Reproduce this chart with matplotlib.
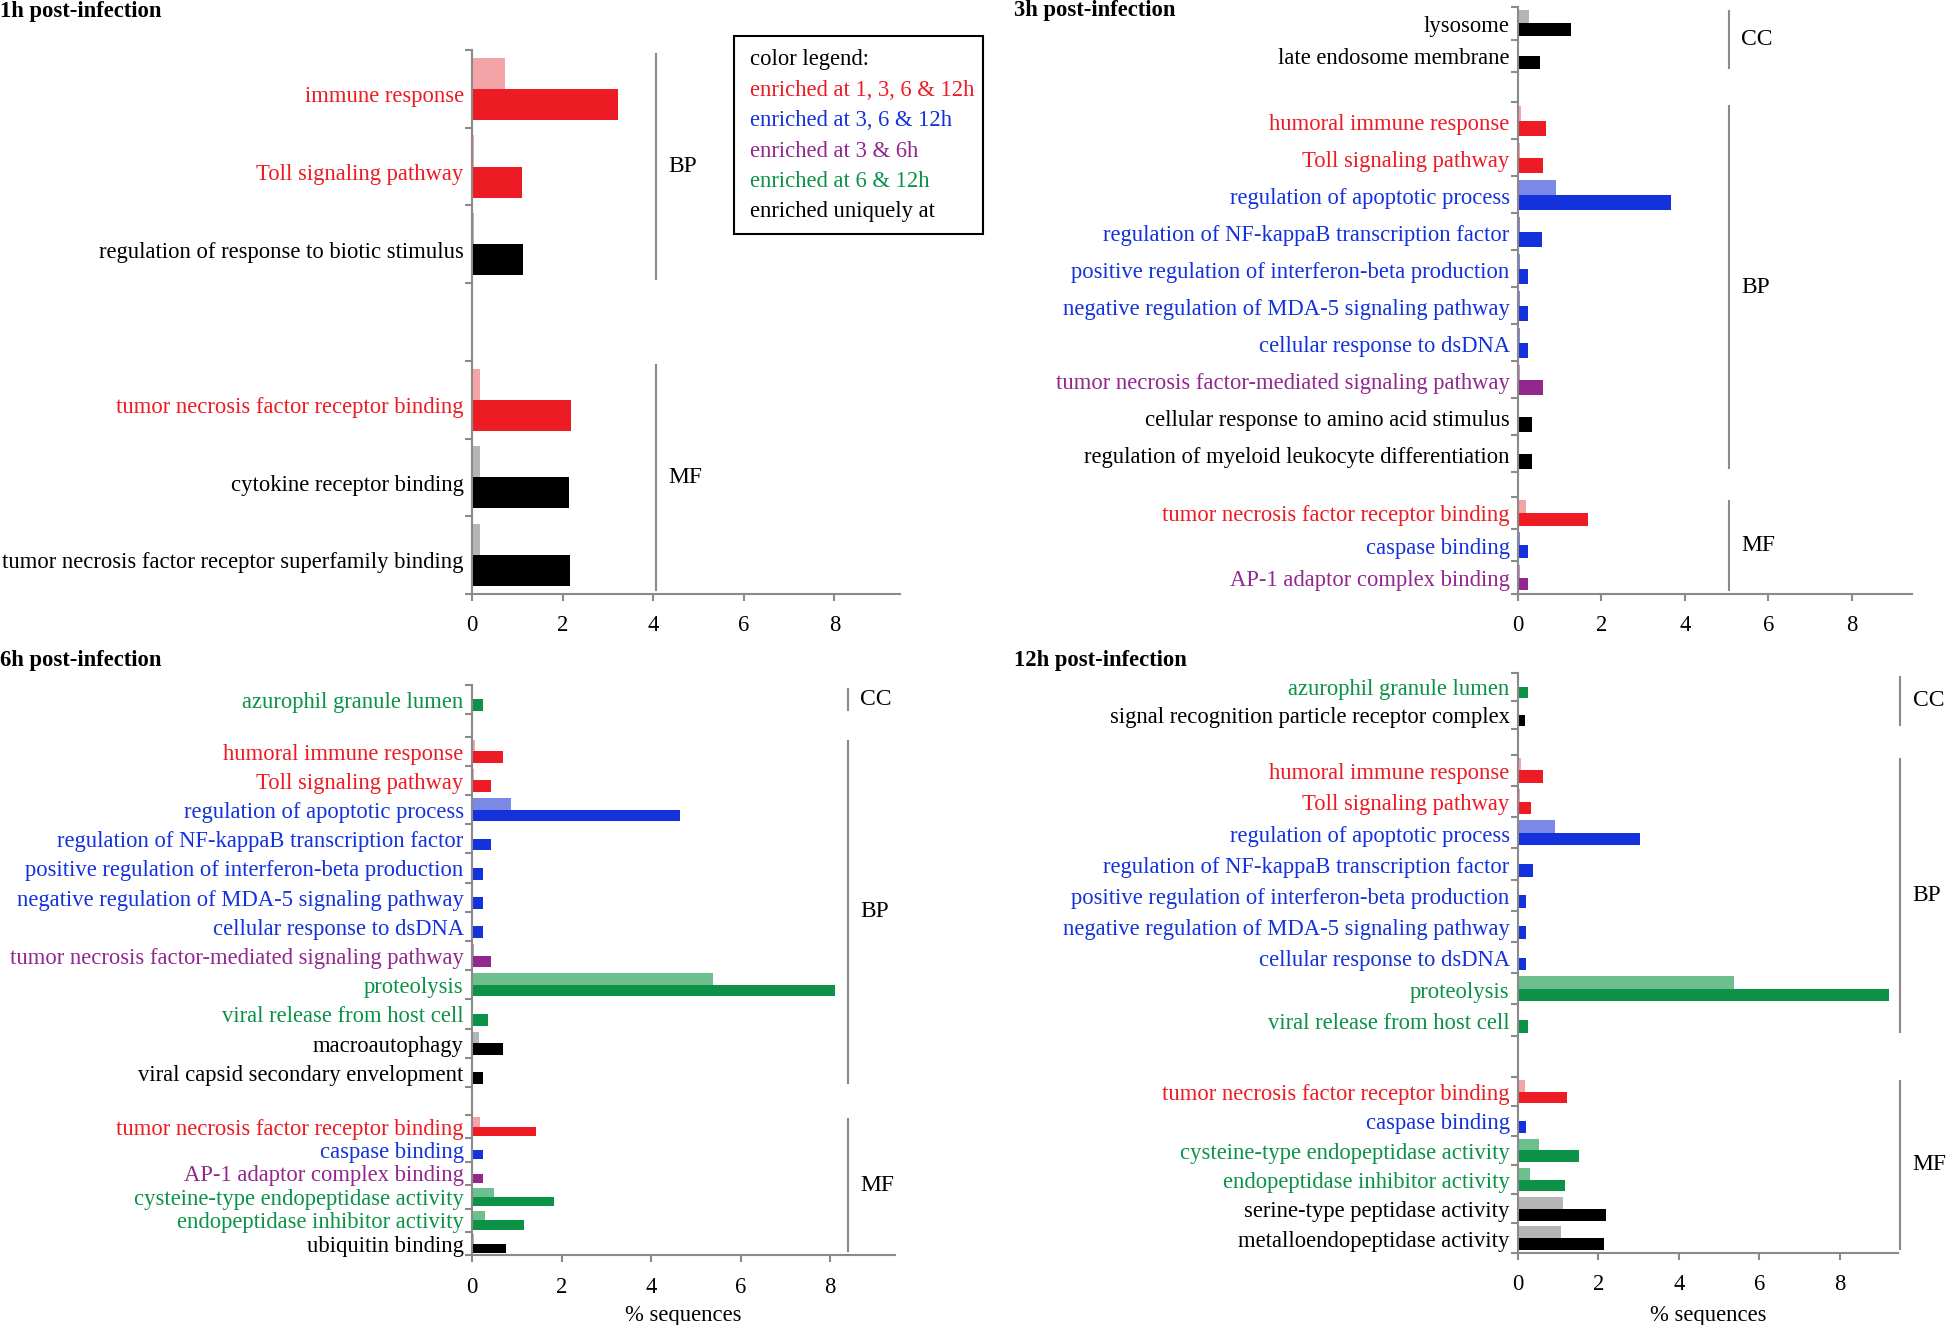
import numpy as np
import matplotlib.pyplot as plt
from matplotlib.patches import Rectangle

plt.rcParams['font.family'] = ['Liberation Serif', 'DejaVu Serif']
plt.rcParams['font.size'] = 16

W, H = 1946, 1325

# colour families: (dark, light)
palette = {
    "r": ("#ED1C24", "#F4A4A7"),
    "b": ("#1432DC", "#7A88E6"),
    "p": ("#92278F", "#C88FC6"),
    "g": ("#0C9247", "#6EBF8E"),
    "k": ("#000000", "#B5B5B5"),
}

# ---- 1h ----
h1_terms = ["immune response", "Toll signaling pathway",
            "regulation of response to biotic stimulus", "",
            "tumor necrosis factor receptor binding", "cytokine receptor binding",
            "tumor necrosis factor receptor superfamily binding"]
h1_cols = "rrk-rkk"
h1_ref = [0.72, 0.05, 0.05, 0, 0.18, 0.18, 0.18]
h1_val = [3.23, 1.10, 1.12, 0, 2.18, 2.15, 2.17]
h1_sections = [("BP", 0, 3), ("MF", 4, 7)]

# ---- 3h ----
h3_terms = ["lysosome", "late endosome membrane", "",
            "humoral immune response", "Toll signaling pathway",
            "regulation of apoptotic process",
            "regulation of NF-kappaB transcription factor",
            "positive regulation of interferon-beta production",
            "negative regulation of MDA-5 signaling pathway",
            "cellular response to dsDNA",
            "tumor necrosis factor-mediated signaling pathway",
            "cellular response to amino acid stimulus",
            "regulation of myeloid leukocyte differentiation", "",
            "tumor necrosis factor receptor binding", "caspase binding",
            "AP-1 adaptor complex binding"]
h3_cols = "kk-rrbbbbbpkk-rbp"
h3_ref = [0.27, 0.03, 0, 0.08, 0.05, 0.90, 0.05, 0.05, 0.05, 0.05, 0.05, 0.03, 0.03, 0,
          0.18, 0.05, 0.05]
h3_val = [1.26, 0.52, 0, 0.68, 0.59, 3.68, 0.58, 0.25, 0.25, 0.25, 0.59, 0.34, 0.34, 0,
          1.68, 0.25, 0.25]
h3_sections = [("CC", 0, 2), ("BP", 3, 13), ("MF", 14, 17)]

# ---- 6h ----
h6_terms = ["azurophil granule lumen", "",
            "humoral immune response", "Toll signaling pathway",
            "regulation of apoptotic process",
            "regulation of NF-kappaB transcription factor",
            "positive regulation of interferon-beta production",
            "negative regulation of MDA-5 signaling pathway",
            "cellular response to dsDNA",
            "tumor necrosis factor-mediated signaling pathway",
            "proteolysis", "viral release from host cell", "macroautophagy",
            "viral capsid secondary envelopment", "",
            "tumor necrosis factor receptor binding", "caspase binding",
            "AP-1 adaptor complex binding", "cysteine-type endopeptidase activity",
            "endopeptidase inhibitor activity", "ubiquitin binding"]
h6_cols = "g-rrbbbbbpggkk-rbpggk"
h6_ref = [0.02, 0, 0.07, 0.05, 0.88, 0.03, 0.03, 0.03, 0.03, 0.05, 5.38, 0.02, 0.15, 0.02, 0,
          0.17, 0.03, 0.03, 0.49, 0.29, 0.05]
h6_val = [0.25, 0, 0.70, 0.43, 4.64, 0.43, 0.25, 0.25, 0.25, 0.43, 8.11, 0.35, 0.69, 0.25, 0,
          1.43, 0.25, 0.25, 1.83, 1.17, 0.77]
h6_sections = [("CC", 0, 1), ("BP", 2, 14), ("MF", 15, 21)]

# ---- 12h ----
h12_terms = ["azurophil granule lumen", "signal recognition particle receptor complex", "",
             "humoral immune response", "Toll signaling pathway",
             "regulation of apoptotic process",
             "regulation of NF-kappaB transcription factor",
             "positive regulation of interferon-beta production",
             "negative regulation of MDA-5 signaling pathway",
             "cellular response to dsDNA", "proteolysis",
             "viral release from host cell", "",
             "tumor necrosis factor receptor binding", "caspase binding",
             "cysteine-type endopeptidase activity", "endopeptidase inhibitor activity",
             "serine-type peptidase activity", "metalloendopeptidase activity"]
h12_cols = "gk-rrbbbbbgg-rbggkk"
h12_ref = [0.02, 0.02, 0, 0.07, 0.05, 0.91, 0.03, 0.03, 0.03, 0.03, 5.37, 0.02, 0,
           0.18, 0.03, 0.51, 0.31, 1.12, 1.06]
h12_val = [0.26, 0.18, 0, 0.62, 0.32, 3.03, 0.38, 0.20, 0.20, 0.20, 9.23, 0.26, 0,
           1.23, 0.20, 1.52, 1.17, 2.18, 2.14]
h12_sections = [("CC", 0, 2), ("BP", 3, 12), ("MF", 13, 19)]

xticks = [0, 2, 4, 6, 8]
legend_lines = ["color legend:", "enriched at 1, 3, 6 & 12h", "enriched at 3, 6 & 12h",
                "enriched at 3 & 6h", "enriched at 6 & 12h", "enriched uniquely at"]
legend_cols = "krbpgk"

# layout: row heights in pixels, as (number of rows, height)
h1_rows = [(7, 77.7)]
h3_rows = [(2, 32.5), (1, 30.3), (10, 37.0), (1, 24.2), (3, 32.4)]
h6_rows = [(1, 29.2), (1, 22.8), (12, 29.2), (1, 28.0), (6, 23.4)]
h12_rows = [(2, 28.0), (1, 25.9), (9, 31.2), (1, 41.3), (6, 29.3)]

GRAY = "#8A8A8A"
FS = 16.3

fig = plt.figure(figsize=(W / 100, H / 100), dpi=100)


def panel(x0, x1, ytop, rows, terms, cols, ref, val, sections, line_x):
    hs = np.concatenate([[h] * k for k, h in rows])
    edges = np.concatenate([[0], np.cumsum(hs)])
    total = edges[-1]
    ax = fig.add_axes([x0 / W, 1 - (ytop + total) / H, (x1 - x0) / W, total / H])
    top = edges[:-1]
    light = [palette[c][1] if c != "-" else "none" for c in cols]
    dark = [palette[c][0] if c != "-" else "none" for c in cols]
    ax.barh(top + 0.3 * hs, ref, height=0.4 * hs, color=light, linewidth=0)
    ax.barh(top + 0.7 * hs, val, height=0.4 * hs, color=dark, linewidth=0)
    ax.set_ylim(total, 0)
    ax.set_xlim(0, 9.45)
    for s in ["top", "right"]:
        ax.spines[s].set_visible(False)
    for s in ["left", "bottom"]:
        ax.spines[s].set_color(GRAY)
        ax.spines[s].set_linewidth(1.5)
    ax.set_yticks(edges)
    ax.set_yticklabels([])
    ax.set_xticks(xticks)
    ax.tick_params(axis="both", color=GRAY, width=1.5, length=5, direction="out")
    ax.tick_params(axis="x", pad=10.5, labelsize=FS)
    for i, (t, c) in enumerate(zip(terms, cols)):
        if not t:
            continue
        ax.annotate(t, xy=(0, top[i] + 0.6 * hs[i]), xycoords=("axes fraction", "data"),
                    xytext=(-6, 0), textcoords="offset points",
                    ha="right", va="center", color=palette[c][0], fontsize=FS)
    for name, a, b in sections:
        ax.plot([line_x, line_x], [edges[a] + 4, edges[b] - 4], color=GRAY, lw=1.5,
                clip_on=False)
        ax.annotate(name, xy=(line_x, (edges[a] + edges[b]) / 2), xytext=(9, 0),
                    textcoords="offset points", ha="left", va="center",
                    fontsize=17, annotation_clip=False)
    return ax


ax1 = panel(472, 900, 50, h1_rows, h1_terms, h1_cols, h1_ref, h1_val, h1_sections, 4.07)
ax2 = panel(1518, 1912, 7, h3_rows, h3_terms, h3_cols, h3_ref, h3_val, h3_sections, 5.05)
ax3 = panel(472, 895, 684.6, h6_rows, h6_terms, h6_cols, h6_ref, h6_val, h6_sections, 8.39)
ax4 = panel(1518, 1898, 673, h12_rows, h12_terms, h12_cols, h12_ref, h12_val,
            h12_sections, 9.5)

# titles
for label, x, y in [("1h post-infection", 0, 17), ("3h post-infection", 1014, 16),
                    ("6h post-infection", 0, 666), ("12h post-infection", 1014, 666)]:
    fig.text(x / W, 1 - y / H, label, fontweight="bold", fontsize=FS,
             ha="left", va="baseline")

# x labels
for ax in (ax3, ax4):
    p = ax.get_position()
    fig.text(p.x0 + p.width / 2, 1 - 1315 / H, "% sequences", ha="center",
             va="center", fontsize=FS)

# colour legend box
fig.patches.append(Rectangle((734 / W, 1 - 234 / H), (983 - 734) / W, (234 - 36) / H,
                             transform=fig.transFigure, fill=False,
                             edgecolor="black", linewidth=1.5))
for k, (txt, c) in enumerate(zip(legend_lines, legend_cols)):
    fig.text(750 / W, 1 - (60 + 30.4 * k) / H, txt, color=palette[c][0],
             ha="left", va="center", fontsize=FS)

fig.savefig("out.png", dpi=100)
